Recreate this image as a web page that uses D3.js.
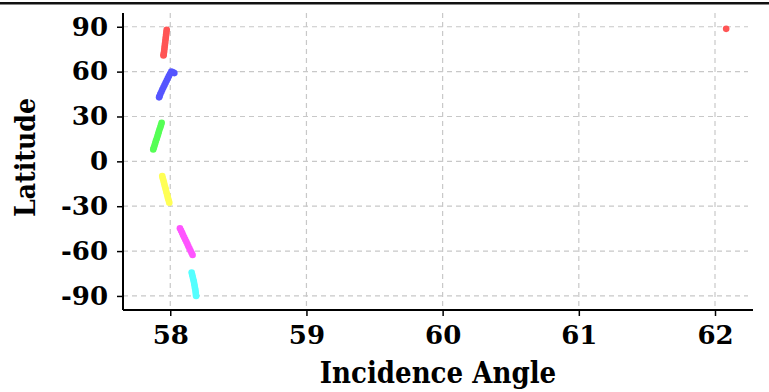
<!DOCTYPE html>
<html>
<head>
<meta charset="utf-8">
<script src="https://cdn.jsdelivr.net/npm/d3@7"></script>
<style>
  body { margin: 0; background: #fff; }
  svg { display: block; }
  text { font-family: "DejaVu Serif", serif; font-weight: bold; }
  .title { font-family: "DejaVu Serif Condensed", "DejaVu Serif", serif; font-stretch: condensed; }
</style>
</head>
<body>
<svg id="chart" width="769" height="392"></svg>
<script>
// ---- data ----
const redInc = [57.974, 57.972, 57.970, 57.968, 57.966, 57.964, 57.962, 57.960, 57.958, 57.956, 57.954, 57.952, 57.950, 62.082];
const redLat = [88.0, 86.5, 85.0, 83.5, 82.0, 80.5, 79.0, 77.5, 76.0, 74.5, 73.0, 71.5, 70.8, 88.6];

const blueInc = [58.030, 58.020, 58.008, 57.999, 57.990, 57.982, 57.974, 57.966, 57.958, 57.950, 57.942, 57.935, 57.927, 57.921, 57.918];
const blueLat = [59.0, 59.6, 60.0, 58.5, 57.0, 55.5, 54.0, 52.5, 51.0, 49.5, 48.0, 46.5, 45.0, 43.5, 42.8];

const greenInc = [57.937, 57.932, 57.927, 57.921, 57.916, 57.911, 57.906, 57.901, 57.895, 57.890, 57.885, 57.880, 57.875];
const greenLat = [25.8, 24.3, 22.8, 21.3, 19.8, 18.3, 16.8, 15.3, 13.8, 12.3, 10.8, 9.3, 8.0];

const yellowInc = [57.941, 57.945, 57.950, 57.954, 57.958, 57.963, 57.967, 57.971, 57.976, 57.980, 57.984, 57.989, 57.993];
const yellowLat = [-9.8, -11.3, -12.8, -14.3, -15.8, -17.3, -18.8, -20.3, -21.8, -23.3, -24.8, -26.3, -27.6];

const magentaInc = [58.071, 58.079, 58.087, 58.094, 58.102, 58.110, 58.118, 58.126, 58.133, 58.141, 58.149, 58.157, 58.164];
const magentaLat = [-44.8, -46.3, -47.8, -49.3, -50.8, -52.3, -53.8, -55.3, -56.8, -58.3, -59.8, -61.3, -62.6];

const cyanInc = [58.157, 58.161, 58.165, 58.169, 58.173, 58.176, 58.179, 58.182, 58.185, 58.187, 58.189, 58.190];
const cyanLat = [-74.4, -75.9, -77.4, -78.9, -80.4, -81.9, -83.4, -84.9, -86.4, -87.9, -89.4, -90.0];

const xTicks = [58, 59, 60, 61, 62];
const yTicks = [90, 60, 30, 0, -30, -60, -90];
const xDomain = [57.653, 62.279];
const yDomain = [-99.4, 99.2];

const seriesNames = ["red", "blue", "green", "yellow", "magenta", "cyan"];
const seriesColors = ["#ff5555", "#5555ff", "#55ff55", "#ffff55", "#ff55ff", "#55ffff"];
const seriesInc = [redInc, blueInc, greenInc, yellowInc, magentaInc, cyanInc];
const seriesLat = [redLat, blueLat, greenLat, yellowLat, magentaLat, cyanLat];

// ---- layout ----
const W = 769, H = 392;
const margin = {left: 123, right: 16, top: 13, bottom: 82};
const svg = d3.select("#chart");

svg.append("rect").attr("x", 0).attr("y", 2).attr("width", W).attr("height", 2.5).attr("fill", "#111");

const x = d3.scaleLinear().domain(xDomain).range([margin.left, W - margin.right]);
const y = d3.scaleLinear().domain(yDomain).range([H - margin.bottom, margin.top]);

// grid
const grid = svg.append("g");
grid.selectAll("line.v").data(xTicks).join("line")
  .attr("x1", d => x(d)).attr("x2", d => x(d))
  .attr("y1", margin.top).attr("y2", H - margin.bottom)
  .attr("stroke", "#c8c8c8").attr("stroke-width", 1.2).attr("stroke-dasharray", "5,4");
grid.selectAll("line.h").data(yTicks).join("line")
  .attr("x1", margin.left).attr("x2", W - margin.right - 5)
  .attr("y1", d => y(d)).attr("y2", d => y(d))
  .attr("stroke", "#c8c8c8").attr("stroke-width", 1.2).attr("stroke-dasharray", "5,4");

// points
seriesNames.forEach((name, i) => {
  const pts = seriesInc[i].map((v, j) => ({inc: v, lat: seriesLat[i][j]}));
  svg.append("g").selectAll("circle").data(pts).join("circle")
    .attr("cx", d => x(d.inc)).attr("cy", d => y(d.lat))
    .attr("r", 3.3).attr("fill", seriesColors[i]);
});

// axes
const fmt = d => String(d);
const xAxis = svg.append("g").attr("transform", `translate(0,${H - margin.bottom})`)
  .call(d3.axisBottom(x).tickValues(xTicks).tickSize(6).tickPadding(10).tickFormat(fmt));
const yAxis = svg.append("g").attr("transform", `translate(${margin.left},0)`)
  .call(d3.axisLeft(y).tickValues(yTicks).tickSize(6).tickPadding(9).tickFormat(fmt));
[xAxis, yAxis].forEach(a => {
  a.select(".domain").attr("stroke", "#000").attr("stroke-width", 2);
  a.selectAll(".tick line").attr("stroke", "#000").attr("stroke-width", 1.5);
  a.selectAll(".tick text").attr("fill", "#000").style("font-size", "26px")
    .style("font-family", "'DejaVu Serif', serif").style("font-weight", "bold");
});
xAxis.select(".domain").attr("d", `M${margin.left},0H${W - margin.right}`);
yAxis.select(".domain").attr("d", `M0,${margin.top}V${H - margin.bottom}`);

// labels
svg.append("text").attr("class", "title").attr("x", (margin.left + W - margin.right) / 2).attr("y", 383)
  .attr("text-anchor", "middle").style("font-size", "29px").attr("fill", "#000")
  .text("Incidence Angle");
svg.append("text").attr("class", "title").attr("transform", `translate(35,${(margin.top + H - margin.bottom) / 2 - 4}) rotate(-90)`)
  .attr("text-anchor", "middle").style("font-size", "28px").attr("fill", "#000")
  .text("Latitude");
</script>
</body>
</html>
